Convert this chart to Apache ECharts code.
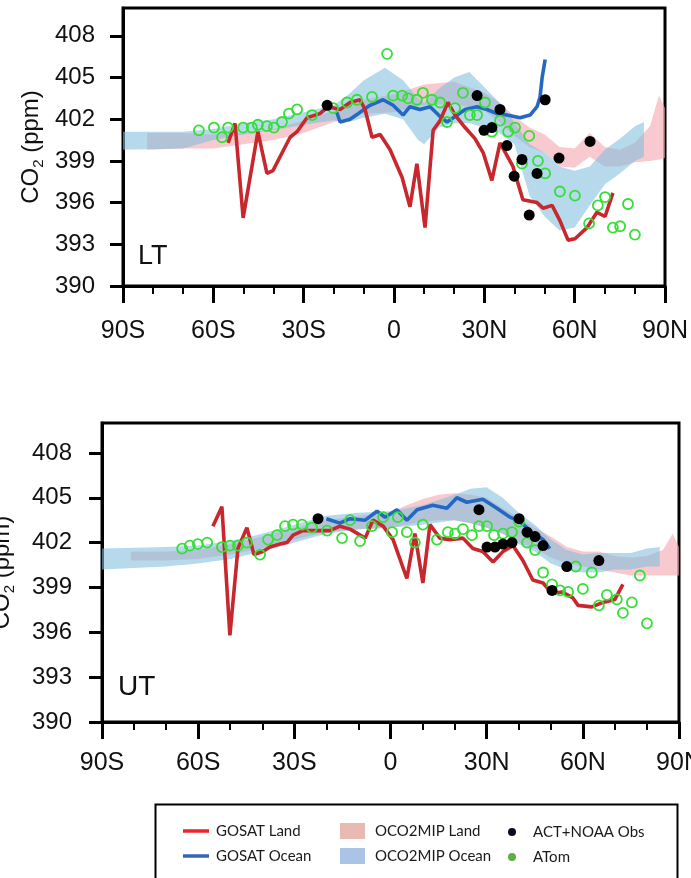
<!DOCTYPE html>
<html>
<head>
<meta charset="utf-8">
<script src="https://cdn.jsdelivr.net/npm/echarts@6/dist/echarts.min.js"></script>
<style>html,body{margin:0;padding:0;background:#fff}#c{width:691px;height:878px}</style>
</head>
<body>
<div id="c"></div>
<script>
// ---------------- DATA ----------------
const xTickLabels = ['90S', '60S', '30S', '0', '30N', '60N', '90N'];
const yTicks = [390, 393, 396, 399, 402, 405, 408];

// LT : GOSAT land
const ltLandLat = [-55.1,-52.8,-50.1,-45.2,-42.2,-40.2,-34.5,-32.2,-28.9,-24.6,-21.9,-17.9,-14.6,-11.3,-9.6,-7.3,-4.6,-1.3,2.7,5.3,7.6,10.3,13.0,15.3,17.9,20.3,23.6,26.9,29.6,32.5,35.2,39.5,42.8,47.5,49.5,52.5,55.1,57.8,60.1,64.1,67.4,70.1,72.7];
const ltLandCO2 = [400.3,401.7,394.9,401.1,398.1,398.3,400.7,401.1,402.1,402.4,402.9,402.7,403.2,403.4,402.7,400.7,400.9,399.8,397.8,395.7,398.8,394.2,401.2,401.9,403.2,402.3,401.4,400.6,399.6,397.6,400.3,398.6,396.2,396.0,395.6,395.8,394.7,393.3,393.4,394.2,395.3,395.0,396.7];
// LT : GOSAT ocean
const ltOceanLat = [-19.0,-17.9,-14.6,-11.9,-8.0,-3.6,-0.3,3.0,5.3,8.6,12.0,15.3,17.6,20.3,23.6,27.6,30.9,34.2,37.5,41.9,45.2,47.5,48.5,49.2,50.2];
const ltOceanCO2 = [402.5,401.8,402.0,402.4,403.0,403.4,403.0,402.3,402.9,402.7,402.9,402.2,401.8,402.2,402.7,402.9,402.7,402.4,402.3,402.1,402.3,402.9,403.6,405.0,406.3];
// LT : ACT+NOAA
const ltObsLat = [-22.2,27.6,29.9,32.5,35.2,37.5,39.9,42.5,44.9,47.5,50.2,54.8,65.1];
const ltObsCO2 = [403.0,403.7,401.2,401.4,402.7,400.1,397.9,399.1,395.1,398.1,403.4,399.2,400.4];
// LT : ATom
const ltAtomLat = [-64.8,-59.8,-57.1,-55.1,-50.1,-47.2,-45.2,-42.2,-39.9,-37.2,-34.9,-32.2,-27.2,-20.2,-15.6,-12.3,-7.3,-2.3,-0.3,2.7,4.7,7.6,9.6,12.6,15.3,17.6,20.3,22.9,25.2,27.6,30.2,32.5,35.2,37.9,40.2,42.5,44.9,47.8,50.2,55.1,60.1,64.8,67.7,70.1,72.7,75.1,77.7,80.0];
const ltAtomCO2 = [401.2,401.4,400.7,401.4,401.4,401.4,401.6,401.5,401.4,401.8,402.4,402.7,402.3,402.8,403.2,403.4,403.6,406.7,403.7,403.7,403.5,403.4,403.9,403.4,403.2,401.8,402.8,403.9,402.3,402.3,403.2,401.1,401.9,401.1,401.4,398.8,400.8,399.0,398.1,396.8,396.5,394.5,395.8,396.4,394.2,394.3,395.9,393.7];
// LT : OCO2MIP land band
const ltMipLandLat = [-82,-70,-60,-50,-40,-30,-20,-10,0,10,20,30,35,40,45,50,55,60,65,70,75,80,85,88,90];
const ltMipLandLow = [399.8,399.9,399.9,400.2,400.5,401.0,401.8,402.4,402.5,403.0,403.1,402.6,401.8,400.8,400.0,399.6,398.6,398.5,399.3,398.6,398.6,398.9,399.0,399.1,399.2];
const ltMipLandHigh = [401.0,401.0,400.9,401.0,401.3,401.9,402.6,403.4,403.8,404.5,404.7,403.9,403.2,402.2,401.4,400.9,400.0,399.9,401.0,400.0,399.8,400.3,401.5,403.7,402.8];
// LT : OCO2MIP ocean band
const ltMipOceanLat = [-90,-70,-60,-50,-40,-30,-20,-15,-10,-3,3,8,10,15,20,25,30,35,40,45,50,55,60,65,70,75,80,83];
const ltMipOceanLow = [399.8,399.9,400.5,400.9,401.2,401.6,401.9,401.8,402.1,402.4,402.0,400.5,400.2,401.4,401.7,401.7,401.4,401.0,400.2,396.5,395.0,394.0,394.2,395.8,397.3,398.1,399.0,399.3];
const ltMipOceanHigh = [401.1,401.1,401.3,401.7,402.0,402.5,403.0,403.8,404.8,405.7,404.8,403.5,403.2,404.2,405.0,405.4,404.3,403.2,401.8,400.2,399.6,398.6,398.3,398.6,399.8,400.6,401.5,401.8];

// UT : GOSAT land
const utLandLat = [-55.4,-52.6,-50.1,-47.6,-44.8,-42.6,-39.8,-37.6,-34.5,-32.3,-30.4,-27.3,-23.0,-18.9,-15.8,-12.6,-7.9,-5.5,-2.3,0.8,5.1,7.6,10.1,12.3,15.4,18.5,22.6,25.7,28.8,32.0,35.1,38.2,41.3,44.4,47.6,50.4,53.5,56.9,58.5,62.8,66.3,70.0,72.5];
const utLandCO2 = [403.1,404.4,395.8,401.6,403.0,401.2,401.4,401.7,401.9,402.0,402.5,402.8,402.8,402.8,403.1,402.9,402.3,403.5,403.1,402.2,399.6,402.6,399.3,403.2,402.3,402.2,402.3,401.6,401.4,400.7,401.4,401.8,400.8,399.5,399.3,398.6,398.7,398.3,397.8,397.7,398.0,398.2,399.2];
// UT : GOSAT ocean
const utOceanLat = [-20.0,-15.8,-12.6,-7.9,-4.2,-1.7,2.0,5.1,8.3,13.2,17.6,20.7,23.8,28.8,33.2,37.3,40.4,44.1,47.6,49.7];
const utOceanCO2 = [403.6,403.3,403.6,403.5,404.1,403.7,404.2,403.5,404.2,404.5,404.3,405.0,404.7,404.9,404.3,403.7,403.4,402.7,402.2,401.6];
// UT : ACT+NOAA
const utObsLat = [-22.6,27.6,30.1,32.6,35.1,37.9,40.1,42.6,45.1,47.6,50.4,55.0,65.0];
const utObsCO2 = [403.6,404.2,401.7,401.7,401.9,402.0,403.6,402.7,402.4,401.8,398.8,400.4,400.8];
// UT : ATom
const utAtomLat = [-65.0,-62.6,-60.1,-57.2,-52.6,-50.1,-47.6,-44.8,-40.7,-38.2,-35.4,-32.9,-30.4,-27.6,-24.5,-19.8,-15.1,-12.6,-9.5,-5.8,-2.3,0.5,2.3,5.1,7.6,10.1,14.5,17.9,20.1,22.6,25.4,27.6,30.1,32.3,35.1,37.9,40.1,42.6,45.1,47.6,50.4,52.9,55.4,57.8,60.0,62.8,65.0,67.5,70.6,72.5,75.3,77.8,80.0];
const utAtomCO2 = [401.6,401.8,401.9,402.0,401.7,401.8,401.8,402.0,401.2,402.2,402.5,403.1,403.2,403.2,403.0,402.8,402.3,403.5,402.1,403.1,403.7,402.7,403.7,402.7,402.0,403.2,402.2,402.7,402.6,402.9,402.5,403.1,403.1,402.5,402.6,402.7,403.4,402.0,401.5,400.0,399.2,398.8,398.7,400.4,398.9,400.0,397.8,398.5,398.2,397.3,398.0,399.8,396.6];
// UT : OCO2MIP land band
const utMipLandLat = [-81,-70,-60,-50,-40,-30,-20,-10,0,5,10,15,20,25,30,35,40,45,50,55,60,65,70,75,80,85,88,90];
const utMipLandLow = [400.8,400.8,400.9,401.2,401.6,402.2,402.7,402.9,403.0,403.2,403.4,403.5,403.5,403.3,403.0,402.6,402.0,401.6,401.0,400.6,400.4,400.2,400.0,399.8,399.8,399.8,399.8,399.8];
const utMipLandHigh = [401.4,401.4,401.5,401.9,402.4,403.0,403.5,403.8,404.0,404.5,404.9,405.2,405.3,405.2,405.0,404.3,403.7,403.0,402.4,401.7,401.4,401.4,401.1,401.0,401.1,401.5,402.6,401.7];
// UT : OCO2MIP ocean band
const utMipOceanLat = [-90,-70,-60,-50,-40,-30,-20,-10,0,10,20,25,30,35,40,45,50,55,60,65,70,75,80,84];
const utMipOceanLow = [400.2,400.4,400.6,400.9,401.4,402.0,402.6,402.9,403.0,403.2,403.5,403.3,403.0,402.6,401.9,401.4,400.6,400.2,400.0,400.0,400.2,400.2,400.4,400.4];
const utMipOceanHigh = [401.6,401.7,401.8,402.1,402.6,403.2,403.8,404.0,404.1,404.5,405.2,405.6,405.7,405.0,404.0,403.2,402.2,401.5,401.2,401.3,401.3,401.3,401.6,401.7];

// ---------------- STYLE ----------------
const FONT = '"Liberation Sans", Arial, Helvetica, sans-serif';
const LFONT = 'Lato, "Open Sans", sans-serif';
const RED = '#c8282d', BLUE = '#2468c4';
const PINK = 'rgba(244,168,178,0.62)', LBLUE = 'rgba(130,192,220,0.58)';

const zip = (xs, ys) => xs.map((x, i) => [x, ys[i]]);
const xFmt = v => { const i = Math.round((v + 90) / 30); return xTickLabels[i] !== undefined ? xTickLabels[i] : ''; };

function axes(gi, nameGap, labelMargin, xMargin) {
  const x = {
    type: 'value', gridIndex: gi, min: -90, max: 90, interval: 30,
    axisLine: { show: true, onZero: false, lineStyle: { color: '#000', width: 3 } },
    axisTick: { show: true, length: 17, lineStyle: { color: '#000', width: 3 } },
    minorTick: { show: true, splitNumber: 3, length: 8, lineStyle: { color: '#000', width: 2 } },
    splitLine: { show: false }, minorSplitLine: { show: false },
    axisLabel: { fontSize: 25, color: '#111', fontFamily: FONT, margin: xMargin, formatter: xFmt }
  };
  const y = {
    type: 'value', gridIndex: gi, min: 390, max: 410, interval: 3,
    name: '{a|CO}{b|2}{a| (ppm)}', nameLocation: 'middle', nameRotate: 90, nameGap: nameGap,
    nameMoveOverlap: false,
    nameTextStyle: { color: '#111', fontFamily: FONT, fontSize: 24,
      rich: { a: { fontSize: 24, fontFamily: FONT, color: '#111', lineHeight: 30 },
              b: { fontSize: 15, fontFamily: FONT, color: '#111', lineHeight: 15, verticalAlign: 'bottom' } } },
    axisLine: { show: true, onZero: false, lineStyle: { color: '#000', width: 3 } },
    axisTick: { show: true, length: 13, lineStyle: { color: '#000', width: 3 }, customValues: yTicks },
    splitLine: { show: false },
    axisLabel: { fontSize: 24, color: '#111', fontFamily: FONT, margin: labelMargin, customValues: yTicks }
  };
  return [x, y];
}

// shaded model range drawn as one polygon through the axis scales
function band(name, gi, lat, lo, hi, color) {
  return {
    type: 'custom', name, xAxisIndex: gi, yAxisIndex: gi, z: 1, silent: true,
    itemStyle: { color },
    data: lat.map((x, i) => [x, lo[i], hi[i]]),
    encode: { x: 0, y: [1, 2] },
    renderItem: function (params, api) {
      if (params.dataIndex !== 0) return;
      const pts = [];
      for (let i = 0; i < lat.length; i++) pts.push(api.coord([lat[i], lo[i]]));
      for (let i = lat.length - 1; i >= 0; i--) pts.push(api.coord([lat[i], hi[i]]));
      const cs = params.coordSys;
      return {
        type: 'polygon',
        shape: { points: pts },
        style: { fill: color, lineJoin: 'round' },
        clipPath: { type: 'rect', shape: { x: cs.x, y: cs.y, width: cs.width, height: cs.height } }
      };
    }
  };
}
function line(name, gi, lat, v, color) {
  return { type: 'line', name, xAxisIndex: gi, yAxisIndex: gi, data: zip(lat, v), symbol: 'none',
    z: 3, itemStyle: { color }, lineStyle: { color, width: 3.6 } };
}
function atom(gi, lat, v) {
  return { type: 'scatter', name: 'ATom', xAxisIndex: gi, yAxisIndex: gi, data: zip(lat, v),
    symbol: 'circle', symbolSize: 10, z: 4,
    itemStyle: { color: 'rgba(255,255,255,0)', borderColor: '#36df36', borderWidth: 1.8, opacity: 1 } };
}
function obs(gi, lat, v) {
  return { type: 'scatter', name: 'ACT+NOAA Obs', xAxisIndex: gi, yAxisIndex: gi, data: zip(lat, v),
    symbol: 'circle', symbolSize: 11, z: 5, itemStyle: { color: '#000', opacity: 1 } };
}

const [x0, y0] = axes(0, 77, 28, 33);
const [x1, y1] = axes(1, 85, 30, 29);

function leg(name, left, cy, icon, w, h, color, pad) {
  return { show: true, selectedMode: false, left, top: cy - 9, padding: 0, itemWidth: w, itemHeight: h,
    data: [{ name, icon, itemStyle: { color, borderWidth: 0, opacity: 1 } }],
    textStyle: { fontFamily: LFONT, fontSize: 15, color: '#1a1a1a', lineHeight: 18, padding: [0, 0, 0, pad] } };
}

const option = {
  animation: false,
  backgroundColor: '#fff',
  grid: [
    { left: 123, top: 8, width: 542, height: 278, show: true, borderColor: '#000', borderWidth: 3, outerBoundsMode: 'none', containLabel: false },
    { left: 102, top: 423, width: 577, height: 299, show: true, borderColor: '#000', borderWidth: 3, outerBoundsMode: 'none', containLabel: false }
  ],
  xAxis: [x0, x1],
  yAxis: [y0, y1],
  title: [
    { text: 'LT', left: 138, top: 243, padding: 0, textStyle: { fontSize: 27, fontWeight: 'normal', fontFamily: FONT, color: '#111' } },
    { text: 'UT', left: 118, top: 673, padding: 0, textStyle: { fontSize: 28, fontWeight: 'normal', fontFamily: FONT, color: '#111' } }
  ],
  legend: [
    leg('GOSAT Land', 183, 831, 'rect', 26, 3.5, '#ee2229', 2),
    leg('GOSAT Ocean', 183, 856, 'rect', 26, 3.5, '#3565b5', 2),
    leg('OCO2MIP Land', 340, 831, 'rect', 25, 16, '#e9b9b4', 5),
    leg('OCO2MIP Ocean', 340, 856, 'rect', 25, 16, '#abc3e4', 5),
    leg('ACT+NOAA Obs', 508, 832, 'circle', 32, 8, '#0a0a20', 0),
    leg('ATom', 508, 857, 'circle', 32, 8, '#5fae3f', 0)
  ],
  graphic: [
    { type: 'rect', left: 153, top: 802, shape: { width: 522, height: 90 },
      style: { fill: 'none', stroke: '#000', lineWidth: 2 }, z: 10 }
  ],
  series: [
    band('OCO2MIP Land', 0, ltMipLandLat, ltMipLandLow, ltMipLandHigh, PINK),
    band('OCO2MIP Ocean', 0, ltMipOceanLat, ltMipOceanLow, ltMipOceanHigh, LBLUE),
    line('GOSAT Ocean', 0, ltOceanLat, ltOceanCO2, BLUE),
    line('GOSAT Land', 0, ltLandLat, ltLandCO2, RED),
    atom(0, ltAtomLat, ltAtomCO2),
    obs(0, ltObsLat, ltObsCO2),
    band('OCO2MIP Land', 1, utMipLandLat, utMipLandLow, utMipLandHigh, PINK),
    band('OCO2MIP Ocean', 1, utMipOceanLat, utMipOceanLow, utMipOceanHigh, LBLUE),
    line('GOSAT Ocean', 1, utOceanLat, utOceanCO2, BLUE),
    line('GOSAT Land', 1, utLandLat, utLandCO2, RED),
    atom(1, utAtomLat, utAtomCO2),
    obs(1, utObsLat, utObsCO2)
  ]
};

const chart = echarts.init(document.getElementById('c'), null, { renderer: 'canvas' });
chart.setOption(option);
</script>
</body>
</html>
